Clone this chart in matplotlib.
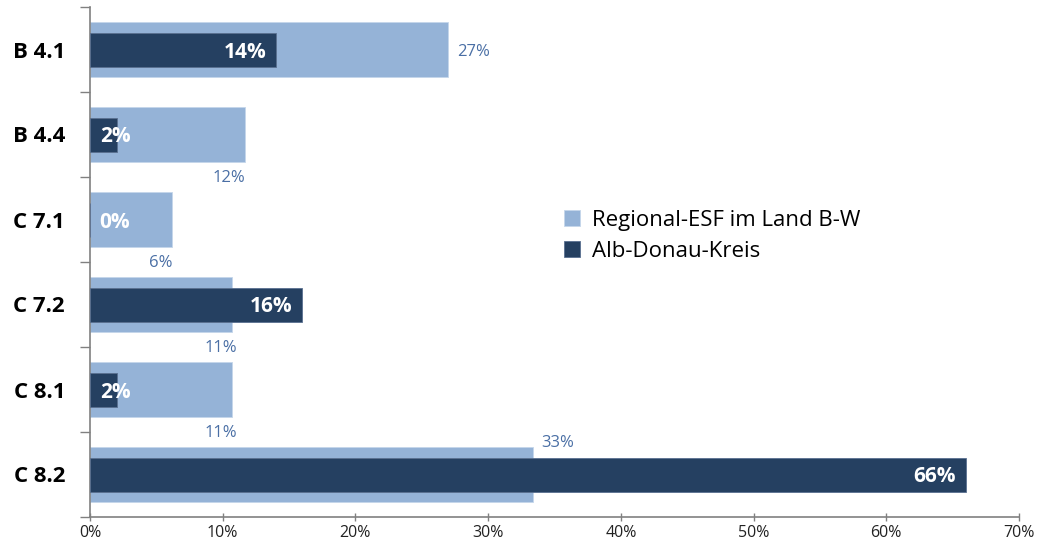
import matplotlib.pyplot as plt
import matplotlib.ticker as mticker
import numpy as np

# data
categories = ["B 4.1", "B 4.4", "C 7.1", "C 7.2", "C 8.1", "C 8.2"]
regional_esf = [27.0, 11.7, 6.2, 10.7, 10.7, 33.4]
alb_donau = [14.0, 2.0, 0.0, 16.0, 2.0, 66.0]
regional_labels = ["27%", "12%", "6%", "11%", "11%", "33%"]
alb_labels = ["14%", "2%", "0%", "16%", "2%", "66%"]
x_ticks = [0, 10, 20, 30, 40, 50, 60, 70]

LIGHT = "#95B3D7"
DARK = "#254061"
LABEL_BLUE = "#4A6FA5"
LIGHT_H = 0.65
DARK_H = 0.4

# where each light label sits: anchor ("end", "below", "above"), dx, dy in points, ha
light_label_pos = [
    ("end", 6, 0, "left"),
    ("below", 0, -10, "right"),
    ("below", 0, -10, "right"),
    ("below", 4, -10, "right"),
    ("below", 4, -10, "right"),
    ("above", 6, 4, "left"),
]

plt.rcParams["font.family"] = ["Open Sans", "DejaVu Sans"]

fig = plt.figure(figsize=(10.41, 5.42), dpi=100)
ax = fig.add_axes([90 / 1041, 1 - 517 / 542, (1019 - 90) / 1041, 510 / 542])

y = np.arange(len(categories))
ax.barh(y, regional_esf, height=LIGHT_H, color=LIGHT, edgecolor="#C5D6EA",
        linewidth=0.6, label="Regional-ESF im Land B-W", zorder=2)
ax.barh(y, alb_donau, height=DARK_H, color=DARK, edgecolor="#5A7090",
        linewidth=0.6, label="Alb-Donau-Kreis", zorder=3)

for i in range(len(categories)):
    where, dx, dy, ha = light_label_pos[i]
    yy = y[i]
    if where == "below":
        yy = y[i] + LIGHT_H / 2
    elif where == "above":
        yy = y[i] - LIGHT_H / 2
    ax.annotate(regional_labels[i], xy=(regional_esf[i], yy),
                xytext=(dx, dy), textcoords="offset points", ha=ha,
                va="center_baseline", fontsize=12, color=LABEL_BLUE, zorder=5)
    if alb_donau[i] >= 5:
        ax.annotate(alb_labels[i], xy=(alb_donau[i], y[i]), xytext=(-7, 0),
                    textcoords="offset points", ha="right", va="center_baseline",
                    fontsize=15, fontweight="bold", color="white", zorder=5)
    else:
        ax.annotate(alb_labels[i], xy=(0, y[i]), xytext=(7, 0),
                    textcoords="offset points", ha="left", va="center_baseline",
                    fontsize=15, fontweight="bold", color="white", zorder=5)

ax.set_xlim(0, 70)
ax.set_ylim(len(categories) - 0.5, -0.5)

ax.xaxis.set_major_locator(mticker.FixedLocator(x_ticks))
ax.xaxis.set_major_formatter(mticker.PercentFormatter(decimals=0))
ax.tick_params(axis="x", direction="inout", length=6, width=1, color="#808080",
               labelsize=11.5, labelcolor="#222222", pad=3)

# category boundaries as major ticks, names on minor ticks
ax.yaxis.set_major_locator(mticker.FixedLocator(np.arange(-0.5, len(categories), 1.0)))
ax.yaxis.set_major_formatter(mticker.NullFormatter())
ax.yaxis.set_minor_locator(mticker.FixedLocator(y))
ax.yaxis.set_minor_formatter(mticker.FixedFormatter(categories))
ax.tick_params(axis="y", which="major", direction="out", length=7, width=1, color="#808080")
ax.tick_params(axis="y", which="minor", length=0, pad=18, labelsize=16)
for lab in ax.get_yticklabels(minor=True):
    lab.set_fontweight("bold")

for side in ["top", "right"]:
    ax.spines[side].set_visible(False)
for side in ["left", "bottom"]:
    ax.spines[side].set_color("#808080")
    ax.spines[side].set_linewidth(1.2)

ax.legend(loc="center left", bbox_to_anchor=((544 - 90) / 929, 1 - (236 - 7) / 510),
          frameon=False, fontsize=16, handlelength=0.7, handleheight=0.7,
          handletextpad=0.55, labelspacing=0.45)

fig.savefig("out.png", dpi=100)
